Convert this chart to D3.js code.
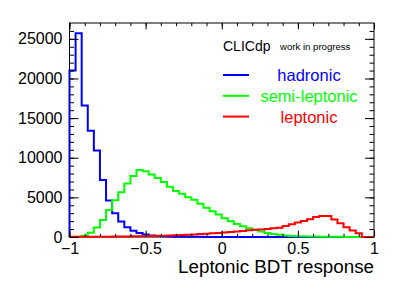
<!DOCTYPE html>
<html>
<head>
<meta charset="utf-8">
<script src="https://cdn.jsdelivr.net/npm/d3@7"></script>
<style>
  body { margin: 0; background: #fff; }
  svg { display: block; font-family: "Liberation Sans", Arial, sans-serif; }
</style>
</head>
<body>
<svg id="chart" width="407" height="289"></svg>
<script>
// 50 bins from -1 to 1
var xDomain = [-1, 1];
var nBins = 50;

var hadronic = [21000, 25700, 16600, 13400, 10900, 7200, 4600, 3000, 1950, 1230,
  800, 520, 330, 200, 130, 90, 60, 45, 35, 28,
  22, 18, 15, 12, 10, 8, 7, 6, 5, 4,
  3, 3, 2, 2, 1, 1, 1, 0, 0, 0,
  0, 0, 0, 0, 0, 0, 0, 0, 0, 0];

var semiLeptonic = [0, 20, 150, 550, 1200, 2150, 3400, 4650, 5650, 6750,
  7700, 8450, 8300, 7900, 7450, 6950, 6350, 5800, 5450, 5000,
  4700, 4200, 3700, 3250, 2850, 2350, 2000, 1650, 1350, 1100,
  900, 700, 520, 380, 270, 190, 140, 100, 80, 60,
  50, 40, 30, 25, 20, 15, 12, 8, 5, 2];

var leptonic = [20, 20, 20, 30, 30, 40, 40, 50, 60, 70,
  80, 90, 110, 130, 150, 170, 200, 230, 260, 290,
  330, 370, 420, 470, 520, 580, 640, 700, 770, 840,
  900, 960, 1020, 1090, 1170, 1400, 1600, 1830, 2030, 2240,
  2530, 2660, 2660, 2200, 1750, 1230, 810, 480, 0, 0];

var xTicks = [-1, -0.5, 0, 0.5, 1];
var xTickLabels = ["\u22121", "\u22120.5", "0", "0.5", "1"];
var yTicks = [0, 5000, 10000, 15000, 20000, 25000];

var series = [
  { name: "hadronic", values: hadronic, color: "#0000ff" },
  { name: "semi-leptonic", values: semiLeptonic, color: "#00ff00" },
  { name: "leptonic", values: leptonic, color: "#ff0000" }
];

var svg = d3.select("#chart");
var plotL = 69.5, plotR = 374, plotT = 23, plotB = 237;

var x = d3.scaleLinear().domain(xDomain).range([plotL, plotR]);
var y = d3.scaleLinear().domain([0, 27000]).range([plotB, plotT]);
var binW = (xDomain[1] - xDomain[0]) / nBins;

var line = d3.line()
  .x(function(p) { return x(p[0]); })
  .y(function(p) { return y(p[1]); });

function histPoints(vals) {
  var pts = [[xDomain[0], 0]];
  vals.forEach(function(v, i) {
    var lo = xDomain[0] + i * binW;
    pts.push([lo, v]);
    pts.push([lo + binW, v]);
  });
  pts.push([xDomain[1], 0]);
  return pts;
}

// frame
svg.append("rect")
  .attr("x", plotL).attr("y", plotT)
  .attr("width", plotR - plotL).attr("height", plotB - plotT)
  .attr("fill", "none").attr("stroke", "#000").attr("stroke-width", 1);

// histograms
svg.selectAll("path.hist")
  .data(series)
  .join("path")
  .attr("class", "hist")
  .attr("d", function(d) { return line(histPoints(d.values)); })
  .attr("fill", "none")
  .attr("stroke", function(d) { return d.color; })
  .attr("stroke-width", 2);

// axes (ticks point inside, like ROOT)
var xMinor = d3.range(-10, 11).map(function(k) { return k / 10; });
var yMinor = d3.range(0, 27).map(function(k) { return k * 1000; });

function styleAxis(g) {
  g.select(".domain").remove();
  g.selectAll("line").attr("stroke", "#000");
  g.selectAll("text").attr("font-size", 16).attr("fill", "#000")
    .attr("font-family", "Liberation Sans, Arial, sans-serif");
}

svg.append("g").attr("transform", "translate(0," + plotB + ")")
  .call(d3.axisBottom(x).tickValues(xMinor).tickSize(-3.2).tickFormat(""))
  .call(styleAxis);
svg.append("g").attr("transform", "translate(0," + plotB + ")")
  .call(d3.axisBottom(x).tickValues(xTicks).tickSize(-6.4).tickPadding(6)
    .tickFormat(function(d, i) { return xTickLabels[i]; }))
  .call(styleAxis);
svg.append("g").attr("transform", "translate(0," + plotT + ")")
  .call(d3.axisTop(x).tickValues(xMinor).tickSize(-3.2).tickFormat(""))
  .call(styleAxis);
svg.append("g").attr("transform", "translate(0," + plotT + ")")
  .call(d3.axisTop(x).tickValues(xTicks).tickSize(-6.4).tickFormat(""))
  .call(styleAxis);

svg.append("g").attr("transform", "translate(" + plotL + ",0)")
  .call(d3.axisLeft(y).tickValues(yMinor).tickSize(-4.5).tickFormat(""))
  .call(styleAxis);
svg.append("g").attr("transform", "translate(" + plotL + ",0)")
  .call(d3.axisLeft(y).tickValues(yTicks).tickSize(-9).tickPadding(7)
    .tickFormat(d3.format("d")))
  .call(styleAxis);
svg.append("g").attr("transform", "translate(" + plotR + ",0)")
  .call(d3.axisRight(y).tickValues(yMinor).tickSize(-4.5).tickFormat(""))
  .call(styleAxis);
svg.append("g").attr("transform", "translate(" + plotR + ",0)")
  .call(d3.axisRight(y).tickValues(yTicks).tickSize(-9).tickFormat(""))
  .call(styleAxis);

// axis title
svg.append("text")
  .attr("x", plotR).attr("y", 273)
  .attr("text-anchor", "end")
  .attr("font-size", 18.8)
  .text("Leptonic BDT response");

// label + legend
svg.append("text").attr("x", 223).attr("y", 50.5).attr("font-size", 14).text("CLICdp");
svg.append("text").attr("x", 280).attr("y", 50).attr("font-size", 9.6).text("work in progress");

var legend = svg.selectAll("g.leg")
  .data(series)
  .join("g")
  .attr("class", "leg")
  .attr("transform", function(d, i) { return "translate(0," + (75 + i * 20.8) + ")"; });

legend.append("line")
  .attr("x1", 223).attr("x2", 249)
  .attr("stroke", function(d) { return d.color; })
  .attr("stroke-width", 2);

legend.append("text")
  .attr("x", 309).attr("y", 6)
  .attr("text-anchor", "middle")
  .attr("font-size", 16.5)
  .attr("fill", function(d) { return d.color; })
  .text(function(d) { return d.name; });
</script>
</body>
</html>
